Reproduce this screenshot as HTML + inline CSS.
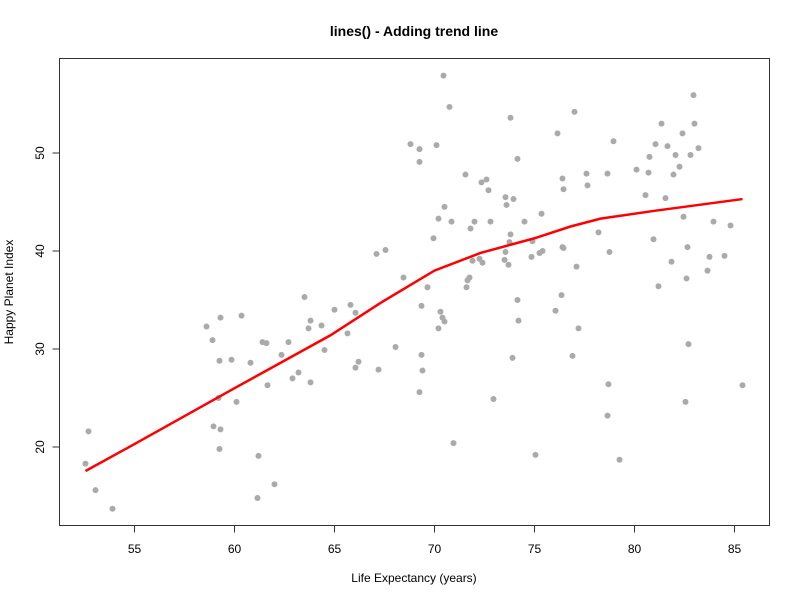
<!DOCTYPE html>
<html><head><meta charset="utf-8"><style>
html,body{margin:0;padding:0;background:#fff;}
svg{display:block;font-family:"Liberation Sans",Arial,sans-serif;}
</style></head><body>
<svg id="chart" width="800" height="600">
<text x="414" y="36" text-anchor="middle" font-size="14" font-weight="bold">lines() - Adding trend line</text>
<text x="414" y="582" text-anchor="middle" font-size="12">Life Expectancy (years)</text>
<text transform="translate(13,292) rotate(-90)" text-anchor="middle" font-size="12">Happy Planet Index</text>
<rect x="59.5" y="58.5" width="710" height="467" fill="none" stroke="#333" stroke-width="1"/>
<g id="xaxis"></g>
<g id="yaxis"></g>
<g id="points"></g>
<g id="trend"></g>
</svg>
<script>
const xTicks=[55,60,65,70,75,80,85];
const yTicks=[20,30,40,50];
const lifeExp=[52.55,52.7,53.05,53.9,58.6,58.9,58.95,59.2,59.3,59.25,59.3,59.25,59.85,60.1,60.35,60.8,61.2,61.15,61.4,61.6,61.65,62.0,62.35,62.7,62.9,63.2,63.5,63.7,63.8,63.8,64.35,64.5,65.0,65.65,65.8,66.05,66.05,66.2,67.1,67.2,67.55,68.05,68.45,68.8,69.25,69.25,69.25,69.35,69.35,69.4,69.65,69.95,70.1,70.2,70.2,70.3,70.4,70.5,70.5,70.45,70.75,70.85,70.95,71.55,71.6,71.65,71.75,71.8,71.9,72.0,72.25,72.35,72.4,72.6,72.7,72.8,72.95,73.5,73.55,73.55,73.6,73.7,73.75,73.8,73.8,73.9,73.95,74.15,74.15,74.2,74.5,74.85,74.9,75.05,75.25,75.4,75.35,76.05,76.15,76.35,76.4,76.45,76.4,76.45,76.9,77.0,77.1,77.2,77.65,77.6,78.2,78.65,78.7,78.65,78.75,78.95,79.25,80.1,80.55,80.7,80.75,80.95,81.05,81.2,81.35,81.55,81.65,81.85,81.95,82.05,82.25,82.4,82.45,82.55,82.6,82.65,82.7,82.8,83.0,82.95,83.2,83.65,83.75,83.95,84.5,84.8,85.4];
const hpi=[18.3,21.6,15.6,13.7,32.3,30.9,22.1,25.0,33.2,28.8,21.8,19.8,28.9,24.6,33.4,28.6,19.1,14.8,30.7,30.6,26.3,16.2,29.4,30.7,27.0,27.6,35.3,32.1,32.9,26.6,32.4,29.9,34.0,31.6,34.5,28.1,33.7,28.7,39.7,27.9,40.1,30.2,37.3,50.9,50.4,49.1,25.6,34.4,29.4,27.8,36.3,41.3,50.8,43.3,32.1,33.8,33.2,44.5,32.8,57.9,54.7,43.0,20.4,47.8,36.3,37.0,37.3,42.3,39.0,43.0,39.2,47.0,38.8,47.3,46.2,43.0,24.9,39.1,39.9,45.5,44.7,38.6,40.9,41.7,53.6,29.1,45.3,49.4,35.0,32.9,43.0,39.4,41.0,19.2,39.8,40.0,43.8,33.9,52.0,35.5,40.4,40.3,47.4,46.3,29.3,54.2,38.4,32.1,46.7,47.9,41.9,47.9,26.4,23.2,39.9,51.2,18.7,48.3,45.7,48.0,49.6,41.2,50.9,36.4,53.0,45.4,50.7,38.9,47.8,49.8,48.6,52.0,43.5,24.6,37.2,40.4,30.5,49.8,53.0,55.9,50.5,38.0,39.4,43.0,39.5,42.6,26.3];
const trendX=[52.55,55,60,64.8,67.3,70,72.3,75,76.8,78.3,81,85.4];
const trendY=[17.55,20.3,26.0,31.4,34.7,38.0,39.8,41.3,42.5,43.3,44.1,45.3];

const sx=v=>134.5+(v-55)*20;
const sy=v=>447-(v-20)*9.8;
const NS="http://www.w3.org/2000/svg";
function mk(tag,attrs,parent){const e=document.createElementNS(NS,tag);for(const k in attrs)e.setAttribute(k,attrs[k]);parent.appendChild(e);return e;}
const xa=document.getElementById('xaxis'),ya=document.getElementById('yaxis');
mk('line',{x1:sx(xTicks[0]),x2:sx(xTicks[xTicks.length-1]),y1:525.5,y2:525.5,stroke:'#333'},xa);
xTicks.forEach(t=>{
 const l=mk('line',{x1:sx(t),x2:sx(t),y1:525.5,y2:532.5,stroke:'#333'},xa);
 
 
 const tx=mk('text',{x:sx(t),y:553,'text-anchor':'middle','font-size':12},xa);
 tx.textContent=t;
 
 
});
mk('line',{x1:59.5,x2:59.5,y1:sy(yTicks[0]),y2:sy(yTicks[yTicks.length-1]),stroke:'#333'},ya);
yTicks.forEach(t=>{
 const l=mk('line',{x1:52.5,x2:59.5,y1:sy(t),y2:sy(t),stroke:'#333'},ya);
 
 
 const tx=mk('text',{transform:`translate(44,${sy(t)}) rotate(-90)`,'text-anchor':'middle','font-size':12},ya);
 tx.textContent=t;
 
 
});
const pg=document.getElementById('points');
lifeExp.forEach((v,i)=>{
 const c=mk('circle',{cx:sx(v),cy:sy(hpi[i]),r:3,fill:'#aaaaaa'},pg);
 
 
});
const tg=document.getElementById('trend');
const p=mk('polyline',{points:trendX.map((v,i)=>sx(v)+','+sy(trendY[i])).join(' '),fill:'none',stroke:'#ff0000','stroke-width':2.5},tg);


</script>
</body></html>
